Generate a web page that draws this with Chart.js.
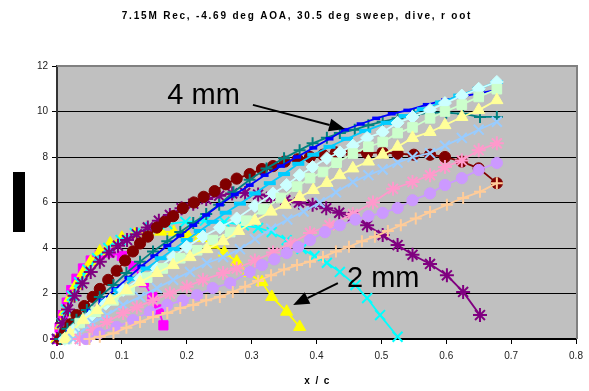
<!DOCTYPE html>
<html>
<head>
<meta charset="utf-8">
<script src="https://cdn.jsdelivr.net/npm/chart.js@4/dist/chart.umd.min.js"></script>
<style>
html,body{margin:0;padding:0;background:#fff;}
#wrap{width:589px;height:391px;}
</style>
</head>
<body>
<div id="wrap"><canvas id="c" width="589" height="391"></canvas></div>
<script>
// ---------- data ----------
const titleText = "7.15M Rec, -4.69 deg AOA, 30.5 deg sweep, dive, r oot";
const xTitle = "x / c";
const yTicks = [0, 2, 4, 6, 8, 10, 12];
const xTicks = [0.0, 0.1, 0.2, 0.3, 0.4, 0.5, 0.6, 0.7, 0.8];

const magX = [0.0, 0.004, 0.009, 0.015, 0.022, 0.03, 0.04, 0.052, 0.066, 0.082, 0.1, 0.118, 0.134, 0.147, 0.157, 0.164];
const magY = [0.0, 0.5, 1.05, 1.6, 2.15, 2.65, 3.1, 3.45, 3.7, 3.8, 3.65, 3.2, 2.5, 1.85, 1.3, 0.6];

const yelX = [0.0, 0.006, 0.012, 0.02, 0.029, 0.04, 0.052, 0.066, 0.082, 0.1, 0.12, 0.14, 0.16, 0.18, 0.2, 0.22, 0.24, 0.258, 0.277, 0.294, 0.316, 0.331, 0.354, 0.374];
const yelY = [0.0, 0.6, 1.2, 1.8, 2.35, 2.9, 3.4, 3.85, 4.2, 4.45, 4.6, 4.7, 4.72, 4.7, 4.62, 4.45, 4.15, 3.8, 3.4, 2.9, 2.5, 1.85, 1.2, 0.53];

const cyaX = [0.0, 0.007, 0.014, 0.023, 0.034, 0.047, 0.062, 0.079, 0.098, 0.12, 0.144, 0.17, 0.198, 0.228, 0.258, 0.288, 0.31, 0.331, 0.354, 0.377, 0.397, 0.416, 0.436, 0.46, 0.478, 0.498, 0.525];
const cyaY = [0.0, 0.7, 1.3, 1.9, 2.5, 3.05, 3.55, 4.0, 4.35, 4.65, 4.9, 5.05, 5.15, 5.2, 5.15, 5.0, 4.88, 4.7, 4.35, 3.96, 3.65, 3.35, 2.95, 2.37, 1.8, 1.05, 0.1];

const purX = [0.0, 0.008, 0.017, 0.027, 0.039, 0.052, 0.066, 0.08, 0.094, 0.108, 0.123, 0.14, 0.157, 0.174, 0.192, 0.21, 0.23, 0.25, 0.27, 0.29, 0.31, 0.33, 0.352, 0.373, 0.394, 0.415, 0.435, 0.456, 0.478, 0.502, 0.525, 0.548, 0.575, 0.601, 0.626, 0.652];
const purY = [0.0, 0.7, 1.3, 1.9, 2.45, 2.95, 3.4, 3.8, 4.1, 4.35, 4.6, 4.9, 5.2, 5.45, 5.75, 5.95, 6.15, 6.3, 6.4, 6.42, 6.35, 6.25, 6.1, 6.0, 5.9, 5.75, 5.55, 5.36, 5.0, 4.57, 4.13, 3.7, 3.3, 2.8, 2.07, 1.05];

const marX = [0.005, 0.013, 0.021, 0.03, 0.042, 0.055, 0.066, 0.079, 0.092, 0.105, 0.117, 0.128, 0.14, 0.154, 0.166, 0.179, 0.194, 0.211, 0.226, 0.243, 0.26, 0.277, 0.297, 0.316, 0.333, 0.351, 0.371, 0.39, 0.41, 0.43, 0.454, 0.478, 0.502, 0.525, 0.55, 0.575, 0.598, 0.624, 0.65, 0.678];
const marY = [0.0, 0.3, 0.65, 1.05, 1.45, 1.85, 2.2, 2.6, 3.0, 3.45, 3.85, 4.2, 4.5, 4.9, 5.15, 5.4, 5.75, 6.0, 6.25, 6.5, 6.8, 7.05, 7.25, 7.47, 7.6, 7.8, 7.9, 8.0, 8.1, 8.2, 8.2, 8.17, 8.2, 8.15, 8.1, 8.1, 8.0, 7.8, 7.5, 6.85];

const teaX = [0.005, 0.016, 0.03, 0.046, 0.066, 0.087, 0.107, 0.128, 0.148, 0.17, 0.19, 0.21, 0.23, 0.25, 0.272, 0.297, 0.323, 0.35, 0.374, 0.394, 0.416, 0.436, 0.459, 0.48, 0.502, 0.525, 0.55, 0.575, 0.6, 0.626, 0.652, 0.678];
const teaY = [0.0, 0.45, 0.85, 1.27, 1.85, 2.37, 2.9, 3.4, 3.85, 4.3, 4.7, 5.1, 5.5, 5.9, 6.45, 7.0, 7.5, 7.95, 8.3, 8.6, 8.85, 9.05, 9.2, 9.4, 9.55, 9.7, 9.85, 9.95, 9.95, 9.9, 9.76, 9.76];

const bluX = [0.008, 0.02, 0.035, 0.052, 0.07, 0.09, 0.11, 0.13, 0.15, 0.17, 0.19, 0.21, 0.23, 0.251, 0.274, 0.297, 0.32, 0.345, 0.37, 0.395, 0.42, 0.444, 0.468, 0.492, 0.516, 0.54, 0.57, 0.598, 0.624, 0.65, 0.678];
const bluY = [0.0, 0.35, 0.8, 1.25, 1.7, 2.2, 2.7, 3.2, 3.65, 4.1, 4.55, 5.0, 5.45, 5.9, 6.35, 6.76, 7.2, 7.6, 8.0, 8.4, 8.8, 9.2, 9.45, 9.7, 9.9, 10.05, 10.3, 10.5, 10.65, 10.8, 10.95];

const skyX = [0.012, 0.025, 0.04, 0.057, 0.076, 0.096, 0.117, 0.138, 0.16, 0.18, 0.2, 0.22, 0.24, 0.26, 0.282, 0.305, 0.328, 0.35, 0.372, 0.395, 0.42, 0.447, 0.475, 0.508, 0.536, 0.564, 0.592, 0.62, 0.65, 0.678];
const skyY = [0.0, 0.35, 0.75, 1.2, 1.65, 2.15, 2.65, 3.1, 3.55, 3.95, 4.35, 4.75, 5.15, 5.55, 5.95, 6.4, 6.85, 7.25, 7.7, 8.1, 8.45, 8.8, 9.15, 9.5, 9.8, 10.1, 10.4, 10.7, 11.0, 11.3];

const lcyX = [0.012, 0.025, 0.05, 0.075, 0.102, 0.128, 0.154, 0.179, 0.2, 0.225, 0.251, 0.277, 0.305, 0.333, 0.354, 0.374, 0.394, 0.416, 0.436, 0.456, 0.478, 0.502, 0.525, 0.548, 0.575, 0.598, 0.624, 0.65, 0.678];
const lcyY = [0.0, 0.4, 0.97, 1.55, 2.15, 2.65, 3.1, 3.6, 4.05, 4.5, 4.9, 5.3, 5.85, 6.4, 6.77, 7.2, 7.56, 7.95, 8.2, 8.5, 8.84, 9.1, 9.5, 9.76, 10.07, 10.37, 10.7, 11.0, 11.3];

const lgrX = [0.015, 0.035, 0.06, 0.087, 0.112, 0.139, 0.163, 0.19, 0.216, 0.24, 0.267, 0.292, 0.318, 0.345, 0.37, 0.39, 0.41, 0.431, 0.456, 0.48, 0.502, 0.525, 0.548, 0.575, 0.598, 0.624, 0.65, 0.678];
const lgrY = [0.0, 0.7, 1.2, 1.7, 2.15, 2.7, 3.1, 3.55, 3.9, 4.35, 4.7, 5.2, 5.7, 6.2, 6.7, 7.07, 7.34, 7.75, 8.15, 8.45, 8.66, 9.05, 9.3, 9.7, 10.0, 10.3, 10.64, 10.98];

const lylX = [0.012, 0.02, 0.04, 0.062, 0.082, 0.107, 0.128, 0.154, 0.179, 0.205, 0.231, 0.256, 0.28, 0.305, 0.33, 0.352, 0.374, 0.395, 0.416, 0.436, 0.456, 0.48, 0.502, 0.525, 0.548, 0.575, 0.598, 0.624, 0.65, 0.678];
const lylY = [0.0, 0.25, 0.83, 1.27, 1.7, 2.15, 2.5, 2.9, 3.25, 3.6, 3.95, 4.3, 4.75, 5.2, 5.6, 5.9, 6.24, 6.55, 6.86, 7.2, 7.5, 7.8, 8.1, 8.45, 8.84, 9.1, 9.4, 9.76, 10.06, 10.5];

const pblX = [0.025, 0.035, 0.055, 0.077, 0.102, 0.128, 0.154, 0.179, 0.205, 0.231, 0.256, 0.282, 0.305, 0.33, 0.355, 0.38, 0.405, 0.43, 0.456, 0.48, 0.502, 0.525, 0.548, 0.575, 0.598, 0.624, 0.65, 0.678];
const pblY = [0.0, 0.25, 0.7, 1.05, 1.5, 1.85, 2.24, 2.6, 2.95, 3.34, 3.6, 3.95, 4.4, 4.85, 5.25, 5.6, 6.0, 6.45, 6.9, 7.2, 7.45, 7.75, 8.0, 8.17, 8.5, 8.84, 9.2, 9.55];

const pnkX = [0.035, 0.055, 0.077, 0.102, 0.123, 0.148, 0.174, 0.2, 0.225, 0.256, 0.277, 0.305, 0.333, 0.36, 0.39, 0.42, 0.456, 0.487, 0.518, 0.548, 0.575, 0.598, 0.624, 0.65, 0.678];
const pnkY = [0.0, 0.4, 0.75, 1.14, 1.4, 1.7, 2.0, 2.3, 2.6, 2.9, 3.1, 3.45, 3.8, 4.2, 4.66, 5.0, 5.5, 6.0, 6.6, 6.9, 7.2, 7.56, 7.85, 8.3, 8.6];

const lavX = [0.045, 0.065, 0.092, 0.117, 0.143, 0.17, 0.194, 0.216, 0.24, 0.267, 0.297, 0.316, 0.335, 0.354, 0.372, 0.39, 0.413, 0.436, 0.46, 0.48, 0.502, 0.525, 0.548, 0.575, 0.598, 0.624, 0.65, 0.678];
const lavY = [0.0, 0.25, 0.53, 0.83, 1.2, 1.5, 1.7, 1.93, 2.24, 2.46, 2.95, 3.25, 3.5, 3.78, 4.05, 4.35, 4.7, 5.0, 5.25, 5.4, 5.54, 5.76, 6.1, 6.4, 6.77, 7.07, 7.43, 7.74];

const tanX = [0.05, 0.066, 0.087, 0.107, 0.128, 0.148, 0.17, 0.19, 0.21, 0.23, 0.251, 0.271, 0.29, 0.31, 0.33, 0.35, 0.37, 0.39, 0.41, 0.43, 0.45, 0.47, 0.49, 0.51, 0.53, 0.553, 0.575, 0.601, 0.626, 0.652, 0.678];
const tanY = [0.0, 0.1, 0.25, 0.5, 0.75, 0.97, 1.14, 1.36, 1.5, 1.7, 1.85, 2.07, 2.3, 2.55, 2.8, 3.05, 3.25, 3.4, 3.6, 3.85, 4.05, 4.3, 4.5, 4.75, 5.0, 5.3, 5.58, 5.9, 6.2, 6.47, 6.85];

// annotations (data coordinates)
const notes = [
  {text: "4 mm", x: 0.170, y: 10.33, fromX: 0.302, fromY: 10.29, toX: 0.444, toY: 9.23},
  {text: "2 mm", x: 0.447, y: 2.29, fromX: 0.433, fromY: 2.46, toX: 0.364, toY: 1.49}
];

// ---------- series styling ----------
const seriesDefs = [
  {x: magX, y: magY, color: '#FF00FF', style: 'rect', r: 6.5, fill: true},
  {x: yelX, y: yelY, color: '#FFFF00', style: 'triangle', r: 7, fill: true},
  {x: cyaX, y: cyaY, color: '#00FFFF', style: 'crossRot', r: 7, fill: false},
  {x: purX, y: purY, color: '#800080', style: 'star', r: 7, fill: false},
  {x: marX, y: marY, color: '#800000', style: 'circle', r: 5.6, fill: true},
  {x: teaX, y: teaY, color: '#008080', style: 'cross', r: 6, fill: false},
  {x: bluX, y: bluY, color: '#0000FF', style: 'line', r: 4, fill: false, bw: 3.5},
  {x: skyX, y: skyY, color: '#00CCFF', style: 'line', r: 6, fill: false, bw: 4},
  {x: lcyX, y: lcyY, color: '#CCFFFF', style: 'rectRot', r: 6.5, fill: true},
  {x: lgrX, y: lgrY, color: '#CCFFCC', style: 'rect', r: 6.8, fill: true},
  {x: lylX, y: lylY, color: '#FFFF99', style: 'triangle', r: 7, fill: true},
  {x: pblX, y: pblY, color: '#99CCFF', style: 'crossRot', r: 7, fill: false},
  {x: pnkX, y: pnkY, color: '#FF99CC', style: 'star', r: 7, fill: false},
  {x: lavX, y: lavY, color: '#CC99FF', style: 'circle', r: 5.6, fill: true},
  {x: tanX, y: tanY, color: '#FFCC99', style: 'cross', r: 6, fill: false}
];

const datasets = seriesDefs.map((s, i) => ({
  data: s.x.map((v, k) => ({x: v, y: s.y[k]})),
  showLine: true,
  borderColor: s.color,
  backgroundColor: s.color,
  borderWidth: 1.8,
  pointStyle: s.style,
  pointRadius: s.r,
  pointHoverRadius: s.r,
  pointBackgroundColor: s.fill ? s.color : 'rgba(0,0,0,0)',
  pointBorderColor: s.color,
  pointBorderWidth: s.bw || (s.fill ? 1 : 2),
  clip: false,
  order: seriesDefs.length - i,
  tension: 0
}));

// ---------- plugins ----------
const decor = {
  id: 'decor',
  beforeDraw(chart) {
    const {ctx, chartArea: a} = chart;
    ctx.save();
    ctx.fillStyle = '#FFFFFF';
    ctx.fillRect(0, 0, chart.width, chart.height);
    ctx.fillStyle = '#C0C0C0';
    ctx.fillRect(a.left, a.top, a.right - a.left, a.bottom - a.top);
    ctx.restore();
  },
  beforeDatasetsDraw(chart) {
    const {ctx, chartArea: a} = chart;
    ctx.save();
    ctx.strokeStyle = '#808080';
    ctx.lineWidth = 2;
    ctx.beginPath();
    ctx.moveTo(a.left, a.top);
    ctx.lineTo(a.right + 1, a.top);
    ctx.lineTo(a.right + 1, a.bottom);
    ctx.stroke();
    ctx.restore();
  },
  afterDraw(chart) {
    const {ctx} = chart;
    const xs = chart.scales.x, ys = chart.scales.y;
    ctx.save();
    // title
    ctx.fillStyle = '#000';
    ctx.font = 'bold 10px Arial, "Liberation Sans", sans-serif';
    ctx.textAlign = 'center';
    ctx.textBaseline = 'middle';
    if ('letterSpacing' in ctx) ctx.letterSpacing = '1.8px';
    ctx.fillText(titleText, 297, 16);
    // x axis title
    if ('letterSpacing' in ctx) ctx.letterSpacing = '1.4px';
    ctx.fillText(xTitle, (xs.left + xs.right) / 2 + 1, 381);
    if ('letterSpacing' in ctx) ctx.letterSpacing = '0px';
    // y axis title placeholder block
    ctx.fillStyle = '#000';
    ctx.fillRect(13, 172, 12, 60);
    // annotations
    ctx.font = '29px Arial, "Liberation Sans", sans-serif';
    ctx.textAlign = 'left';
    ctx.textBaseline = 'alphabetic';
    notes.forEach(n => {
      ctx.fillStyle = '#000';
      ctx.fillText(n.text, xs.getPixelForValue(n.x), ys.getPixelForValue(n.y));
      const x1 = xs.getPixelForValue(n.fromX), y1 = ys.getPixelForValue(n.fromY);
      const x2 = xs.getPixelForValue(n.toX), y2 = ys.getPixelForValue(n.toY);
      const ang = Math.atan2(y2 - y1, x2 - x1);
      const L = 16, W = 6.5;
      const bx = x2 - L * Math.cos(ang), by = y2 - L * Math.sin(ang);
      ctx.strokeStyle = '#000';
      ctx.lineWidth = 2;
      ctx.beginPath();
      ctx.moveTo(x1, y1);
      ctx.lineTo(bx, by);
      ctx.stroke();
      ctx.beginPath();
      ctx.moveTo(x2, y2);
      ctx.lineTo(bx + W * Math.sin(ang), by - W * Math.cos(ang));
      ctx.lineTo(bx - W * Math.sin(ang), by + W * Math.cos(ang));
      ctx.closePath();
      ctx.fill();
    });
    ctx.restore();
  }
};

Chart.defaults.font.family = 'Arial, "Liberation Sans", sans-serif';
Chart.defaults.font.size = 10;
Chart.defaults.color = '#222';

new Chart(document.getElementById('c'), {
  type: 'scatter',
  data: {datasets},
  options: {
    responsive: false,
    animation: false,
    devicePixelRatio: 1,
    layout: {padding: {left: 0, right: 13, top: 66, bottom: 0}},
    plugins: {legend: {display: false}, tooltip: {enabled: false}, title: {display: false}},
    scales: {
      x: {
        type: 'linear', min: 0, max: 0.8,
        afterFit(s) { s.height = 52; },
        afterBuildTicks(s) { s.ticks = xTicks.map(v => ({value: v})); },
        ticks: {padding: 6, color: '#222', font: {size: 10}, callback: v => Number(v).toFixed(1), maxRotation: 0, autoSkip: false},
        grid: {drawOnChartArea: false, drawTicks: true, tickLength: 5, tickColor: '#000', tickWidth: 1},
        border: {display: true, color: '#000', width: 2}
      },
      y: {
        type: 'linear', min: 0, max: 12,
        afterFit(s) { s.width = 57; },
        afterBuildTicks(s) { s.ticks = yTicks.map(v => ({value: v})); },
        ticks: {padding: 4, color: '#222', font: {size: 10}, autoSkip: false},
        grid: {
          drawTicks: true, tickLength: 5, tickColor: '#000',
          color: c => (c.tick && c.tick.value === 12) ? 'rgba(0,0,0,0)' : '#000',
          lineWidth: 1
        },
        border: {display: true, color: '#333', width: 2}
      }
    }
  },
  plugins: [decor]
});
</script>
</body>
</html>
